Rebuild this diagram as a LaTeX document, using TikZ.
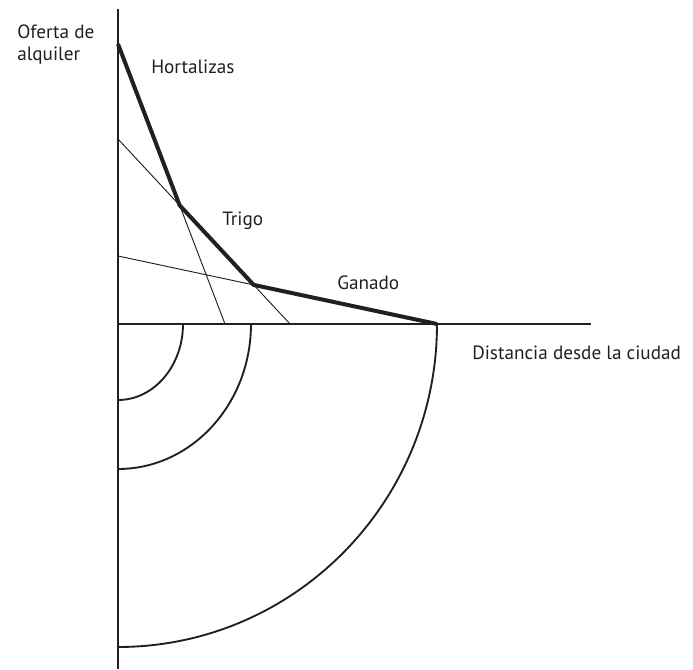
\documentclass[tikz,border=0pt]{standalone}
\usepackage{fontspec}
\setmainfont{PT Sans}
\definecolor{ink}{RGB}{35,31,32}
\begin{document}
\begin{tikzpicture}[x=0.75pt,y=0.75pt,
  lbl/.style={font=\fontsize{14.4}{15.8}\selectfont,text=ink,inner sep=0pt,anchor=west},
  axis/.style={draw=ink,line width=1.5pt},
  thinline/.style={draw=ink,line width=0.7pt},
  thickline/.style={draw=ink,line width=3pt,line join=miter},
  ring/.style={draw=ink,line width=1.4pt}]
\useasboundingbox (0,0) rectangle (693,669);
% axes
\coordinate (O) at (118,345);
\coordinate (ytop) at (118,660);
\coordinate (ybot) at (118,0);
\coordinate (xend) at (591,345);
\draw[axis] (ytop) -- (ybot);
\draw[axis] (O) -- (xend);
% bid-rent lines
\coordinate (h0) at (118,625);
\coordinate (h1) at (225,345);
\coordinate (t0) at (118,530);
\coordinate (t1) at (290,345);
\coordinate (g0) at (118,413);
\coordinate (g1) at (437,345);
\draw[thinline] (h0) -- (h1);
\draw[thinline] (t0) -- (t1);
\draw[thinline] (g0) -- (g1);
\coordinate (ht) at (intersection of h0--h1 and t0--t1);
\coordinate (tg) at (intersection of t0--t1 and g0--g1);
\draw[thickline] (h0) -- (ht) -- (tg) -- (g1);
% rings
\coordinate (r1) at (183,345);
\coordinate (r2) at (251,345);
\draw[ring] (r1) arc[start angle=0,end angle=-90,x radius=65,y radius=76];
\draw[ring] (r2) arc[start angle=0,end angle=-90,x radius=133,y radius=145];
\draw[ring] (g1) arc[start angle=0,end angle=-90,x radius=319,y radius=323];
% labels
\node[lbl,align=left,anchor=north west] (oferta) at (17,644) {Oferta de\\alquiler};
\node[lbl] (hort) at (151,602) {Hortalizas};
\node[lbl] (trigo) at (222,448) {Trigo};
\node[lbl] (ganado) at (337,386) {Ganado};
\node[lbl] (dist) at (472,316) {Distancia desde la ciudad};
\end{tikzpicture}
\end{document}
